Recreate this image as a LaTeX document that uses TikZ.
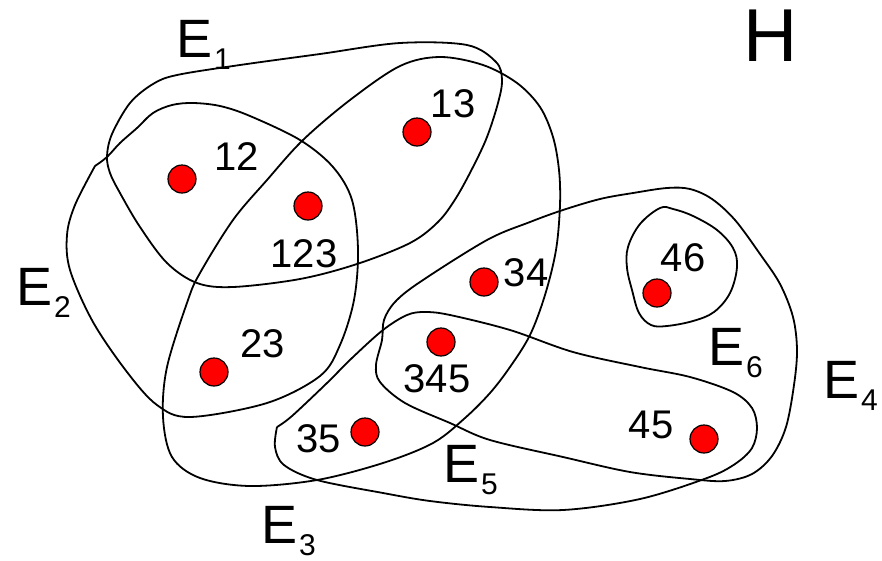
\documentclass[tikz,border=0pt]{standalone}
\usepackage{fontspec}
\setmainfont{Liberation Sans}
\usetikzlibrary{positioning}

% subscript of an edge name
\newcommand{\esub}[1]{\kern2pt\raisebox{-12pt}{\fontsize{30}{30}\selectfont #1}}

\begin{document}
\begin{tikzpicture}[
    x=1pt, y=-1pt,
    hedge/.style={draw, line width=1.8pt},
    vtx/.style={
      circle, draw, fill=red, line width=1.2pt,
      minimum size=28pt, inner sep=0pt
    },
    num/.style={font=\fontsize{40}{40}\selectfont, inner sep=0pt},
    ename/.style={anchor=base west, inner sep=0pt, font=\fontsize{54}{54}\selectfont},
  ]
  \useasboundingbox (0,0) rectangle (882,560);

  % Hyperedges (outlines)
  % E1
  \draw[hedge] plot[smooth cycle, tension=0.55] coordinates {
    (130,103) (153,84) (177,75) (240,65) (320,54) (400,43) (467,45) (496,62)
    (502,80) (498,103) (487,137) (473,167) (456,198) (438,222) (410,243)
    (357,264) (300,279) (233,287) (197,283) (167,263) (140,227) (120,193)
    (110,173) (107,156) (112,134)};
  % E2
  \draw[hedge] plot[smooth, tension=0.55] coordinates {
    (95,166) (107,157) (120,143) (137,128) (153,113) (172,105) (193,103)
    (220,106) (250,116) (300,140) (333,167) (352,200) (358,250) (354,300)
    (340,345) (320,376) (267,403) (190,417) (157,405) (127,372) (93,322)
    (70,270) (67,235) (75,205) (95,166)};
  % E3
  \draw[hedge] plot[smooth cycle, tension=0.55] coordinates {
    (188,300) (200,273) (233,220) (267,180) (303,140) (350,100) (400,66)
    (440,57) (483,65) (517,83) (540,107) (553,137) (559,170) (560,205)
    (556,250) (545,295) (530,335) (510,367) (490,393) (465,418) (433,443)
    (383,463) (317,480) (250,486) (200,478) (172,457) (163,417) (167,367)};
  % E4
  \draw[hedge] plot[smooth cycle, tension=0.55] coordinates {
    (487,240) (530,222) (563,210) (600,199) (633,193) (667,188) (690,189)
    (712,199) (735,220) (760,254) (780,284) (793,317) (797,350) (794,385)
    (786,427) (772,456) (752,474) (725,481) (690,479) (630,472) (563,457)
    (490,440) (450,423) (405,403) (380,382) (376,365) (382,340) (384,320)
    (395,302) (420,282)};
  % E5
  \draw[hedge] plot[smooth, tension=0.55] coordinates {
    (277,427) (292,416) (327,383) (352,358) (383,330) (407,315) (425,312)
    (450,315) (510,330) (573,352) (640,367) (690,377) (733,392) (752,408)
    (757,428) (752,448) (735,464) (707,478) (640,499) (563,510) (490,507)
    (430,501) (383,493) (317,480) (284,465) (275,447) (277,427)};
  % E6
  \draw[hedge] plot[smooth cycle, tension=0.6] coordinates {
    (660,208) (640,224) (628,247) (627,268) (632,290) (639,313) (651,325)
    (667,326) (693,321) (714,312) (730,293) (737,267) (733,248) (717,230)
    (693,216) (673,209)};

  % Vertices
  \node[vtx] (v12)  at (182,179) {};
  \node[vtx] (v123) at (308,206) {};
  \node[vtx] (v13)  at (417,132) {};
  \node[vtx] (v23)  at (214,372) {};
  \node[vtx] (v34)  at (484,282) {};
  \node[vtx] (v345) at (441,342) {};
  \node[vtx] (v35)  at (365,432) {};
  \node[vtx] (v46)  at (657,293) {};
  \node[vtx] (v45)  at (704,439) {};

  % Vertex labels
  \node[num] (l12)  at (237,157) {12};
  \node[num] (l123) at (304,254) {123};
  \node[num] (l13)  at (453,104) {13};
  \node[num] (l23)  at (263,344) {23};
  \node[num] (l34)  at (526,273) {34};
  \node[num] (l345) at (437,379) {345};
  \node[num] (l35)  at (319,439) {35};
  \node[num] (l46)  at (683,258) {46};
  \node[num] (l45)  at (651,425) {45};

  % Edge names
  \node[ename] (e1) at (176,57)  {E\esub{1}};
  \node[ename] (e2) at (16,305)  {E\esub{2}};
  \node[ename] (e3) at (261,543) {E\esub{3}};
  \node[ename] (e4) at (823,398) {E\esub{4}};
  \node[ename] (e5) at (443,482) {E\esub{5}};
  \node[ename] (e6) at (708,365) {E\esub{6}};
  \node[anchor=base west, inner sep=0pt, font=\fontsize{75}{75}\selectfont]
    (hname) at (743,61) {H};

\end{tikzpicture}
\end{document}
